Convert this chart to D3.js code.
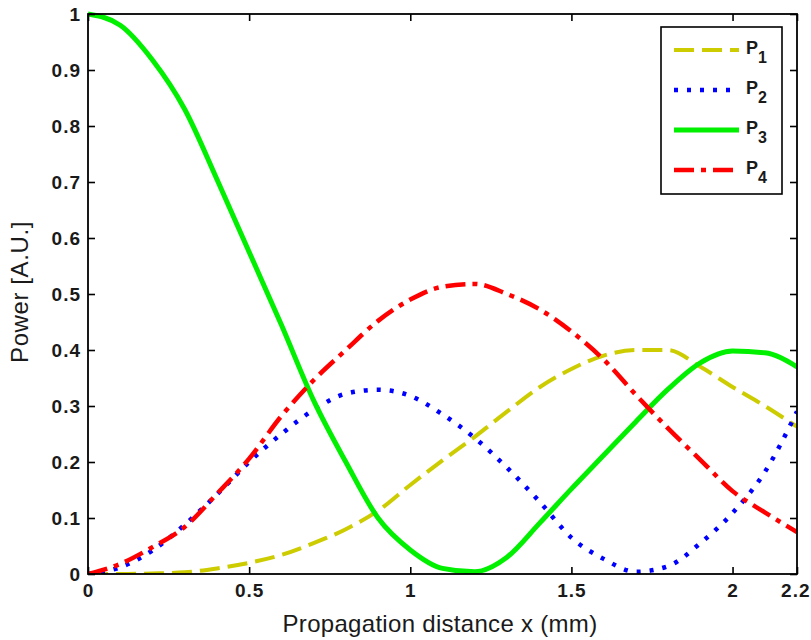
<!DOCTYPE html>
<html><head><meta charset="utf-8">
<script src="https://cdn.jsdelivr.net/npm/d3@7"></script>
<style>
html,body{margin:0;padding:0;background:#fff;}
svg{display:block;font-family:"Liberation Sans",Arial,sans-serif;}
</style></head>
<body>
<script>
const xValues = [0,0.1,0.2,0.3,0.4,0.5,0.6,0.7,0.8,0.9,1.0,1.1,1.2,1.3,1.4,1.5,1.6,1.7,1.8,1.9,2.0,2.1,2.2];
const p1 = [0,0,0.001,0.003,0.01,0.02,0.034,0.055,0.08,0.113,0.159,0.203,0.245,0.29,0.333,0.366,0.39,0.4,0.4,0.37,0.334,0.3,0.263];
const p2 = [0,0.012,0.042,0.088,0.142,0.2,0.25,0.293,0.322,0.329,0.318,0.285,0.243,0.19,0.13,0.065,0.027,0.004,0.014,0.055,0.109,0.182,0.29];
const p3 = [1.0,0.98,0.918,0.83,0.705,0.575,0.445,0.31,0.2,0.1,0.043,0.01,0.004,0.03,0.09,0.152,0.212,0.272,0.33,0.377,0.398,0.395,0.37];
const p4 = [0,0.018,0.048,0.084,0.143,0.206,0.282,0.346,0.4,0.452,0.49,0.513,0.518,0.5,0.473,0.433,0.383,0.32,0.26,0.204,0.148,0.11,0.075];
const seriesNames = ["1","2","3","4"];
const xTicks = [0,0.5,1,1.5,2,2.2];
const yTicks = [0,0.1,0.2,0.3,0.4,0.5,0.6,0.7,0.8,0.9,1];
const xLabel = "Propagation distance x (mm)";
const yLabel = "Power [A.U.]";

const W = 811, H = 640;
const L = 88, R = 797, T = 14, B = 574;
const svg = d3.select("body").append("svg").attr("width", W).attr("height", H);
const x = d3.scaleLinear().domain([0, 2.2]).range([L, R]);
const y = d3.scaleLinear().domain([0, 1]).range([B, T]);

const styles = [
  {color:"#cccc00", dash:"20,8", width:4},
  {color:"#0000ff", dash:"4,9", width:4.5},
  {color:"#00f000", dash:null, width:5},
  {color:"#ff0000", dash:"20,7,5,7", width:4.5}
];
const allSeries = [p1, p2, p3, p4];

svg.append("clipPath").attr("id","clip").append("rect")
  .attr("x", L).attr("y", T - 3).attr("width", R - L).attr("height", B - T + 3);

const line = d3.line().x(d => x(d[0])).y(d => y(d[1])).curve(d3.curveMonotoneX);
const g = svg.append("g").attr("clip-path","url(#clip)");
allSeries.forEach((s, i) => {
  g.append("path").datum(xValues.map((v, k) => [v, s[k]]))
    .attr("d", line).attr("fill","none")
    .attr("stroke", styles[i].color).attr("stroke-width", styles[i].width)
    .attr("stroke-dasharray", styles[i].dash).attr("stroke-linejoin","round");
});

// axes
const fmt = d => (d === 0 ? "0" : d3.format("")(d));
const xb = svg.append("g").attr("transform", `translate(0,${B})`)
  .call(d3.axisBottom(x).tickValues(xTicks).tickSizeInner(-7).tickSizeOuter(0).tickPadding(10).tickFormat(fmt));
const xt = svg.append("g").attr("transform", `translate(0,${T})`)
  .call(d3.axisTop(x).tickValues(xTicks).tickSizeInner(-7).tickSizeOuter(0).tickFormat(""));
const yl = svg.append("g").attr("transform", `translate(${L},0)`)
  .call(d3.axisLeft(y).tickValues(yTicks).tickSizeInner(-7).tickSizeOuter(0).tickPadding(7).tickFormat(fmt));
const yr = svg.append("g").attr("transform", `translate(${R},0)`)
  .call(d3.axisRight(y).tickValues(yTicks).tickSizeInner(-7).tickSizeOuter(0).tickFormat(""));
[xb, xt, yl, yr].forEach(a => {
  a.select(".domain").remove();
  a.selectAll("line").attr("stroke","#000").attr("stroke-width",1.6);
  a.selectAll("text").attr("font-size", 19).attr("font-weight","bold").attr("fill","#1a1a1a")
    .attr("letter-spacing", 1.0)
    .attr("font-family", '"Liberation Sans",Arial,sans-serif');
});
// keep the last x label (2.2) inside the window, as in the reference
xb.selectAll(".tick text").filter(d => d === 2.2).attr("text-anchor","end").attr("dx", 13);

svg.append("rect").attr("x", L).attr("y", T).attr("width", R - L).attr("height", B - T)
  .attr("fill","none").attr("stroke","#000").attr("stroke-width",1.8);

svg.append("text").attr("x", 440).attr("y", 632).attr("text-anchor","middle")
  .attr("font-size", 24).attr("letter-spacing", 0.3).attr("fill","#1a1a1a").text(xLabel);
svg.append("text").attr("transform", "translate(28,292) rotate(-90)").attr("text-anchor","middle")
  .attr("font-size", 24).attr("letter-spacing", 0.6).attr("fill","#1a1a1a").text(yLabel);

// legend
const lg = svg.append("g");
lg.append("rect").attr("x", 661).attr("y", 27).attr("width", 121).attr("height", 167)
  .attr("fill","#fff").attr("stroke","#000").attr("stroke-width",1.6);
seriesNames.forEach((n, i) => {
  const yy = 50 + i * 40;
  lg.append("line").attr("x1", 674).attr("x2", 739).attr("y1", yy).attr("y2", yy)
    .attr("stroke", styles[i].color).attr("stroke-width", styles[i].width)
    .attr("stroke-dasharray", styles[i].dash);
  const t = lg.append("text").attr("x", 746).attr("y", yy + 4).attr("font-size", 18)
    .attr("font-weight","bold").attr("fill","#1a1a1a");
  t.append("tspan").text("P");
  t.append("tspan").attr("font-size", 16).attr("dy", 9).text(n);
});
</script>
</body></html>
